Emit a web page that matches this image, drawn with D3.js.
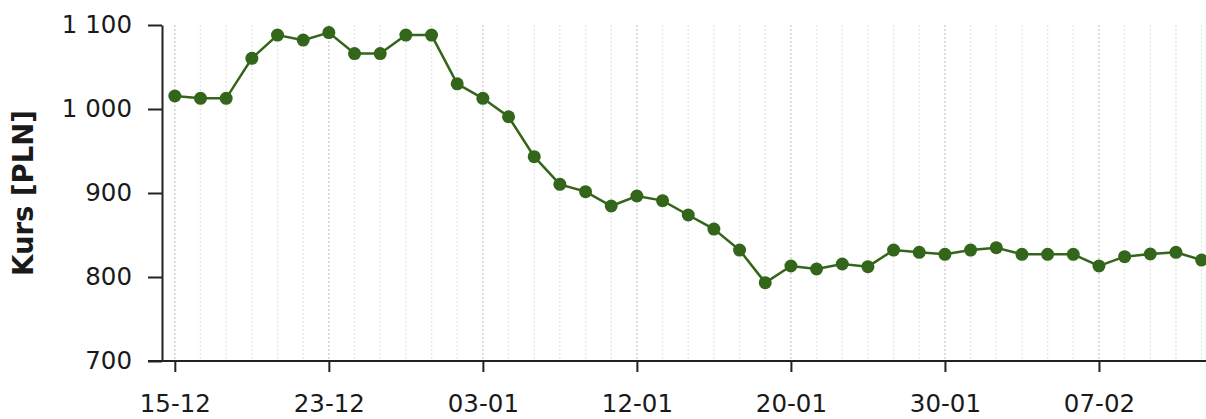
<!DOCTYPE html>
<html>
<head>
<meta charset="utf-8">
<script src="https://cdn.jsdelivr.net/npm/d3@7"></script>
<style>
  html, body { margin: 0; padding: 0; background: #fff; }
  svg { display: block; }
  text { font-family: "DejaVu Sans", Verdana, sans-serif; fill: #1a1a1a; }
</style>
</head>
<body>
<svg id="chart" width="1206" height="419"></svg>
<script>
// ---- data ----
const dates = [
  "15-12","16-12","19-12","20-12","21-12","22-12","23-12","27-12","28-12","29-12","30-12",
  "02-01","03-01","04-01","05-01","09-01","10-01","11-01","12-01","13-01","16-01",
  "17-01","18-01","19-01","20-01","23-01","24-01","25-01","26-01","27-01","30-01",
  "31-01","01-02","02-02","03-02","06-02","07-02","08-02","09-02","10-02","13-02"
];
const values = [
  1015.5, 1012.7, 1012.7, 1060.3, 1088, 1082, 1091, 1066, 1066, 1088, 1088,
  1030, 1012.7, 990.8, 943.3, 910.3, 901.6, 884.5, 896.4, 890.9, 873.8,
  857.1, 832.1, 793.2, 813.1, 809.5, 815.5, 812.3, 832.1, 829.4, 827,
  832.1, 834.9, 827, 827, 827, 813.1, 824.2, 827.4, 829.4, 820.2
];
const xTickLabels = ["15-12","23-12","03-01","12-01","20-01","30-01","07-02"];
const yTicks = [700, 800, 900, 1000, 1100];
const yTitle = "Kurs [PLN]";

// ---- layout ----
const W = 1206, H = 419;
const margin = { left: 162, top: 25, right: 0, bottom: 58 };
const svg = d3.select("#chart");

const x = d3.scaleLinear()
  .domain([-0.5, dates.length - 0.83])
  .range([margin.left, W - margin.right]);
const y = d3.scaleLinear()
  .domain([700, 1100])
  .range([H - margin.bottom, margin.top]);

const locale = d3.formatLocale({ decimal: ",", thousands: "\u00a0", grouping: [3], currency: ["", " zł"] });
const fmt = locale.format(",d");

const majorIdx = xTickLabels.map(l => dates.indexOf(l));

// grid lines
svg.append("g").selectAll("line")
  .data(d3.range(dates.length))
  .join("line")
  .attr("x1", i => x(i)).attr("x2", i => x(i))
  .attr("y1", y(1100)).attr("y2", y(700))
  .attr("stroke", i => majorIdx.includes(i) ? "#d4d4d4" : "#e8e8e8")
  .attr("stroke-width", 1.5)
  .attr("stroke-dasharray", "2,2");

// x axis
const xAxis = d3.axisBottom(x)
  .tickValues(majorIdx)
  .tickFormat(i => dates[i])
  .tickSizeInner(11)
  .tickSizeOuter(0)
  .tickPadding(23);
const gx = svg.append("g")
  .attr("transform", `translate(0,${y(700)})`)
  .call(xAxis);
gx.select(".domain").attr("d", `M${margin.left - 14},0H${W}`);

// y axis
const yAxis = d3.axisLeft(y)
  .tickValues(yTicks)
  .tickFormat(fmt)
  .tickSizeInner(14)
  .tickSizeOuter(0)
  .tickPadding(16);
const gy = svg.append("g")
  .attr("transform", `translate(${margin.left},0)`)
  .call(yAxis);

[gx, gy].forEach(g => {
  g.selectAll(".domain").attr("stroke", "#222").attr("stroke-width", 2);
  g.selectAll(".tick line").attr("stroke", "#222").attr("stroke-width", 2);
  g.selectAll(".tick text")
    .attr("font-family", "'DejaVu Sans', Verdana, sans-serif")
    .attr("font-size", 24.5)
    .attr("fill", "#1a1a1a");
});

// y title
svg.append("text")
  .attr("transform", `translate(33,${(y(700) + y(1100)) / 2}) rotate(-90)`)
  .attr("text-anchor", "middle")
  .attr("font-size", 27.5)
  .attr("font-weight", "bold")
  .text(yTitle);

// line
const line = d3.line()
  .x((d, i) => x(i))
  .y(d => y(d));
svg.append("path")
  .datum(values)
  .attr("fill", "none")
  .attr("stroke", "#33661a")
  .attr("stroke-width", 2.5)
  .attr("d", line);

// points
svg.append("g").selectAll("circle")
  .data(values)
  .join("circle")
  .attr("cx", (d, i) => x(i))
  .attr("cy", d => y(d))
  .attr("r", 6.5)
  .attr("fill", "#33661a");
</script>
</body>
</html>
